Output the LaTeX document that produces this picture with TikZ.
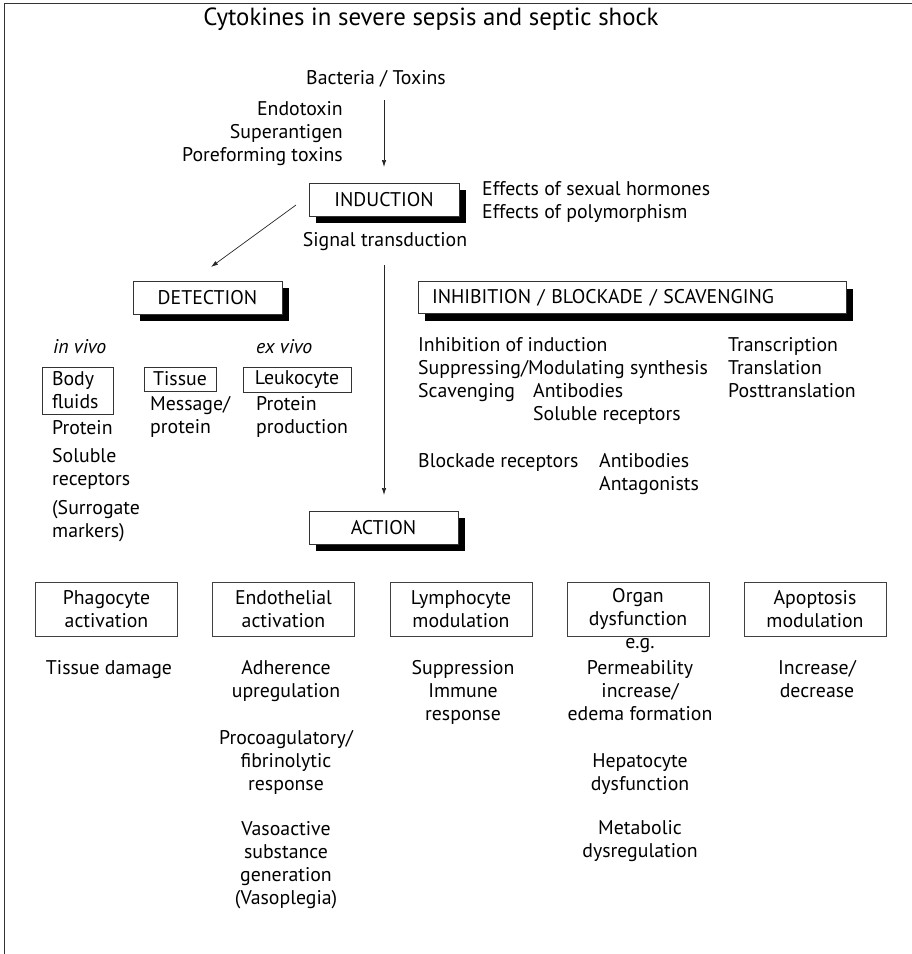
\documentclass[tikz,border=0pt]{standalone}
\usepackage{fontspec}
\setmainfont{PT Sans}
\usetikzlibrary{arrows.meta,shadows}
\newcommand{\bodyf}{\fontsize{19.8}{23}\selectfont}
\newcommand{\titlef}{\fontsize{24.8}{29}\selectfont}
\begin{document}
\begin{tikzpicture}[x=1pt,y=-1pt,
  txt/.style={inner sep=0pt, font=\bodyf, text=black},
  shbox/.style={draw=black!80, line width=0.9pt, fill=white, inner sep=0pt,
     minimum height=33pt, font=\bodyf,
     drop shadow={shadow xshift=7pt, shadow yshift=-7pt, fill=black, opacity=1}},
  abox/.style={draw=black!75, line width=0.8pt, inner sep=0pt, minimum width=142pt,
     minimum height=54pt, align=center, font=\bodyf},
  sbox/.style={draw=black!80, line width=0.8pt, inner sep=0pt, font=\bodyf},
  arr/.style={draw=black!85, line width=0.7pt, -{Latex[length=7pt,width=4.5pt]}},
]
\useasboundingbox (0,0) rectangle (912,954);
% partial frame
\coordinate (fbl) at (4,954);
\coordinate (ftl) at (4,3);
\coordinate (ftr) at (912,3);
\draw[line width=1pt, black!80] (fbl) -- (ftl) -- (ftr);

% title
\node[txt, font=\titlef, anchor=base] (title) at (431,25) {Cytokines in severe sepsis and septic shock};

% top part
\node[txt, anchor=base] (bact) at (376,84) {Bacteria / Toxins};
\node[txt, anchor=north east, align=right] (tox) at (343,101) {Endotoxin\\Superantigen\\Poreforming toxins};
\coordinate (a1s) at (384,100);
\coordinate (a1e) at (384,167);
\draw[arr] (a1s) -- (a1e);

\node[shbox, minimum width=150pt] (ind) at (384,199.5) {INDUCTION};
\node[txt, anchor=north west, align=left] (eff) at (482,181) {Effects of sexual hormones\\Effects of polymorphism};
\node[txt, anchor=base] (sig) at (385,246) {Signal transduction};

\coordinate (a2s) at (296,205);
\coordinate (a2e) at (211,267);
\draw[arr] (a2s) -- (a2e);
\coordinate (a3s) at (384,265);
\coordinate (a3e) at (384,495);
\draw[arr] (a3s) -- (a3e);

% detection
\node[shbox, minimum width=149pt] (det) at (207.5,297.5) {DETECTION};
\node[txt, anchor=base west, font=\bodyf\itshape] (invivo) at (53,353) {in vivo};
\node[txt, anchor=base west, font=\bodyf\itshape] (exvivo) at (256,353) {ex vivo};

\node[sbox, minimum height=47pt, inner xsep=10pt, text width=51pt, align=left] (bodyfl) at (77.5,390.5) {Body\\fluids};
\node[sbox, minimum width=72pt, minimum height=24pt] (tissue) at (180,379) {Tissue};
\node[sbox, minimum width=108pt, minimum height=25pt] (leuko) at (297,379.5) {Leukocyte};

\node[txt, anchor=north west, align=left] (bfdesc) at (52,420) {Protein\\[5pt]Soluble\\receptors\\[6pt](Surrogate\\markers)};
\node[txt, anchor=north west, align=left] (tisdesc) at (150,396) {Message/\\protein};
\node[txt, anchor=north west, align=left] (leudesc) at (256,396) {Protein\\production};

% inhibition
\node[shbox, inner xsep=14pt, text width=400pt, align=left, minimum height=32pt] (inh) at (632,297.5) {INHIBITION / BLOCKADE / SCAVENGING};
\node[txt, anchor=north west, align=left] (inh1) at (418,337) {Inhibition of induction\\Suppressing/Modulating synthesis\\Scavenging};
\node[txt, anchor=north west, align=left] (inh2) at (533,383) {Antibodies\\Soluble receptors};
\node[txt, anchor=north west, align=left] (inh3) at (728,337) {Transcription\\Translation\\Posttranslation};
\node[txt, anchor=north west, align=left] (blk) at (418,453) {Blockade receptors};
\node[txt, anchor=north west, align=left] (blk2) at (599,453) {Antibodies\\Antagonists};

% action
\node[shbox, minimum width=149pt] (act) at (383.5,527.5) {ACTION};

\node[abox] (phag) at (106.5,609) {Phagocyte\\activation};
\node[abox] (endo) at (283.5,609) {Endothelial\\activation};
\node[abox] (lymph) at (461,609) {Lymphocyte\\modulation};
\node[abox] (organ) at (638,609) {Organ\\dysfunction};
\node[abox] (apop) at (815,609) {Apoptosis\\modulation};

\node[txt, anchor=base] (phagd) at (109,674) {Tissue damage};
\node[txt, anchor=north, align=center] (endod) at (286,660) {Adherence\\upregulation\\[24pt]Procoagulatory/\\fibrinolytic\\response\\[22pt]Vasoactive\\substance\\generation\\(Vasoplegia)};
\node[txt, anchor=north, align=center] (lymphd) at (463,660) {Suppression\\Immune\\response};
\node[txt, anchor=base] (eg) at (640,648) {e.g.};
\node[txt, anchor=north, align=center] (organd) at (640,660) {Permeability\\increase/\\edema formation\\[24pt]Hepatocyte\\dysfunction\\[21pt]Metabolic\\dysregulation};
\node[txt, anchor=north, align=center] (apopd) at (817,660) {Increase/\\decrease};
\end{tikzpicture}
\end{document}
